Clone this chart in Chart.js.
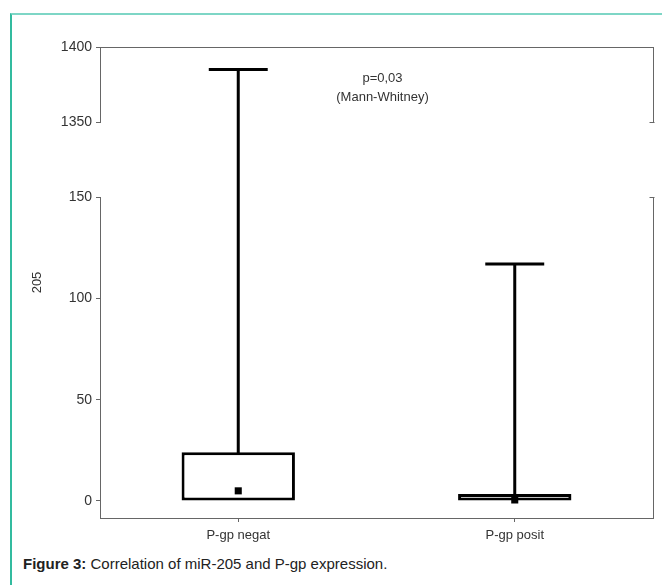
<!DOCTYPE html>
<html>
<head>
<meta charset="utf-8">
<script src="https://cdn.jsdelivr.net/npm/chart.js@4/dist/chart.umd.min.js"></script>
<style>
  body { margin: 0; background: #fff; font-family: "Liberation Sans", Arial, sans-serif; }
  #frame { position: absolute; left: 10px; top: 13px; width: 660px; height: 580px;
           border-left: 2px solid #33bb9f; border-top: 2px solid #7ed6c6; }
  #wrap { position: absolute; left: 0; top: 0; width: 662px; height: 550px; }
  #caption { position: absolute; left: 23px; top: 555px; font-size: 15px; color: #222; }
</style>
</head>
<body>
<div id="frame"></div>
<div id="wrap"><canvas id="boxChart"></canvas></div>
<div id="caption"><b>Figure 3:</b> Correlation of miR-205 and P-gp expression.</div>
<script>
var groups = ["P-gp negat", "P-gp posit"];
var boxLow = [0, 0];
var boxHigh = [24, 3.5];
var medians = [5, 0.5];
var whiskerMax = [1385, 117];
var upperTicks = [1350, 1400];
var lowerTicks = [0, 50, 100, 150];

var tickFont = { family: "Liberation Sans", size: 14 };

// draws whiskers, caps, right frame pieces, the p-value note and the axis title
var boxPlot = {
    id: "boxPlot",
    afterDatasetsDraw: function (chart) {
        var ctx = chart.ctx;
        var x = chart.scales.x;
        var yTop = chart.scales.yTop;
        var yBot = chart.scales.yBot;
        var area = chart.chartArea;
        var yPix = function (v) {
            return v >= upperTicks[0] ? yTop.getPixelForValue(v) : yBot.getPixelForValue(v);
        };
        var bars = chart.getDatasetMeta(0).data;

        ctx.save();
        ctx.strokeStyle = "#000";
        ctx.lineWidth = 3;
        groups.forEach(function (g, i) {
            var cx = x.getPixelForValue(i);
            var half = bars[i].width * 0.26;
            var top = yPix(whiskerMax[i]);
            ctx.beginPath();
            ctx.moveTo(cx, yPix(boxHigh[i]) + 1);
            ctx.lineTo(cx, top);
            ctx.moveTo(cx - half, top);
            ctx.lineTo(cx + half, top);
            ctx.stroke();
        });

        // right side of the frame, broken like the left axis
        var rx = Math.round(area.right) + 0.5;
        ctx.strokeStyle = "#666";
        ctx.lineWidth = 1;
        ctx.beginPath();
        ctx.moveTo(rx, yTop.top);
        ctx.lineTo(rx, yTop.bottom);
        ctx.moveTo(rx - 4, Math.round(yTop.bottom) + 0.5);
        ctx.lineTo(rx + 1, Math.round(yTop.bottom) + 0.5);
        ctx.moveTo(rx - 4, Math.round(yBot.top) + 0.5);
        ctx.lineTo(rx + 1, Math.round(yBot.top) + 0.5);
        ctx.moveTo(rx, yBot.top);
        ctx.lineTo(rx, yBot.bottom);
        ctx.stroke();

        ctx.fillStyle = "#333";
        ctx.font = "13px 'Liberation Sans'";
        ctx.textAlign = "center";
        ctx.textBaseline = "middle";
        var nx = (area.left + area.right) / 2 + 6;
        ctx.fillText("p=0,03", nx, 78);
        ctx.fillText("(Mann-Whitney)", nx, 97);

        ctx.translate(37, (area.top + area.bottom) / 2);
        ctx.rotate(-Math.PI / 2);
        ctx.fillText("205", 0, 0);
        ctx.restore();
    }
};

function valueScale(weight, min, max, tickList) {
    return {
        type: "linear", position: "left", stack: "left", stackWeight: weight,
        min: min, max: max,
        afterBuildTicks: function (s) {
            s.ticks = tickList.map(function (v) { return { value: v }; });
        },
        grid: { display: true, drawOnChartArea: false, tickLength: 4, color: "#666" },
        border: { display: true, color: "#666", width: 1 },
        ticks: { color: "#333", font: tickFont, padding: 4,
                 callback: function (v) { return String(v); } },
        afterFit: function (s) { s.width = 80; }
    };
}

new Chart(document.getElementById("boxChart"), {
    data: {
        labels: groups,
        datasets: [{
            type: "bar",
            data: groups.map(function (g, i) { return [boxLow[i], boxHigh[i]]; }),
            yAxisID: "yBot",
            backgroundColor: "#fff",
            borderColor: "#000",
            borderWidth: 3,
            borderSkipped: false,
            barPercentage: 0.41,
            categoryPercentage: 1,
            order: 2
        }, {
            type: "line",
            data: medians,
            yAxisID: "yBot",
            showLine: false,
            pointStyle: "rect",
            pointRadius: 5,
            pointBackgroundColor: "#000",
            pointBorderWidth: 0,
            order: 1
        }]
    },
    options: {
        responsive: true,
        maintainAspectRatio: false,
        animation: false,
        layout: { padding: { left: 20, right: 9, top: 47, bottom: 2 } },
        plugins: { legend: { display: false }, tooltip: { enabled: false } },
        scales: {
            x: {
                type: "category", position: "bottom", offset: true,
                grid: { display: true, drawOnChartArea: false, offset: false, tickLength: 4, color: "#666" },
                border: { display: true, color: "#666", width: 1 },
                ticks: { color: "#333", font: { family: "Liberation Sans", size: 13 }, padding: 6 },
                afterFit: function (s) { s.height = 30; }
            },
            xTop: {
                type: "category", position: "top", offset: true, labels: groups,
                grid: { display: false }, ticks: { display: false },
                border: { display: true, color: "#666", width: 1 },
                afterFit: function (s) { s.height = 0; }
            },
            // stacked scales are laid out bottom first
            yBot: valueScale(321, -8.4, 150, lowerTicks),
            yGap: {
                type: "linear", position: "left", stack: "left", stackWeight: 75,
                min: 0, max: 1,
                grid: { display: false }, ticks: { display: false }, border: { display: false },
                afterFit: function (s) { s.width = 80; }
            },
            yTop: valueScale(75, 1350, 1400, upperTicks)
        }
    },
    plugins: [boxPlot]
});
</script>
</body>
</html>
